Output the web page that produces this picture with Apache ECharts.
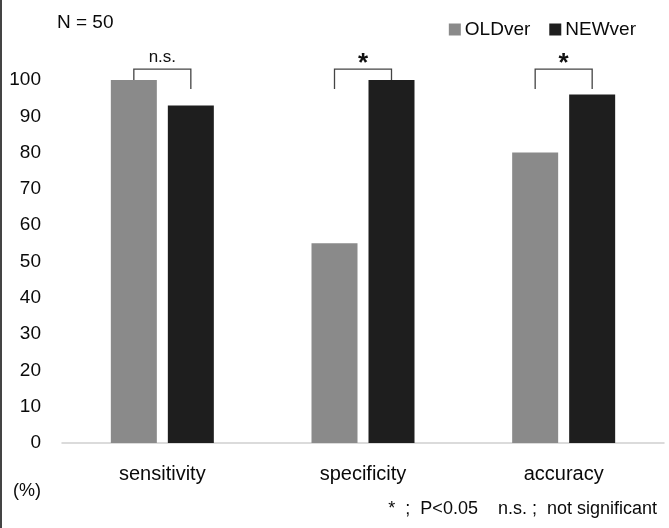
<!DOCTYPE html>
<html>
<head>
<meta charset="utf-8">
<style>
  html, body { margin: 0; padding: 0; background: #fff; }
  #chart { width: 669px; height: 528px; box-sizing: border-box; border-left: 2px solid #444; }
</style>
<script src="https://cdn.jsdelivr.net/npm/echarts@6/dist/echarts.min.js"></script>
</head>
<body>
<div id="chart"></div>
<script>
const categories = ['sensitivity', 'specificity', 'accuracy'];
const oldVer = [100, 55, 80];
const newVer = [93, 100, 96];
const yTicks = [0, 10, 20, 30, 40, 50, 60, 70, 80, 90, 100];
// significance brackets: [category index, top value, left leg end, right leg end]
const bracketTop = [103, 103, 103];
const bracketLeftEnd = [97.5, 97.5, 97.5];
const bracketRightEnd = [97.5, 97.5, 97.5];
const bracketLabels = ['n.s.', '*', '*'];

const FONT = '"Liberation Sans", Arial, sans-serif';
const BAR_W = 46, BAR_GAP = 11;

const chart = echarts.init(document.getElementById('chart'), null, { renderer: 'canvas' });
chart.setOption({
  animation: false,
  backgroundColor: '#fff',
  textStyle: { fontFamily: FONT },
  grid: { left: 60, right: 5, top: 80, bottom: 85, containLabel: false },
  legend: {
    data: ['OLDver', 'NEWver'],
    right: 28, top: 15,
    icon: 'rect', itemWidth: 12, itemHeight: 12, itemGap: 19,
    textStyle: { fontFamily: FONT, fontSize: 19, color: '#0a0a0a', padding: [0, 0, 0, -1] }
  },
  xAxis: {
    type: 'category',
    data: categories,
    axisTick: { show: false },
    axisLine: { lineStyle: { color: '#cfcfcf', width: 1.5 } },
    axisLabel: { fontFamily: FONT, fontSize: 20, color: '#0a0a0a', margin: 21 }
  },
  yAxis: {
    type: 'value',
    min: 0, max: 100, interval: 10,
    splitLine: { show: false },
    axisLine: { show: false },
    axisTick: { show: false },
    axisLabel: {
      fontFamily: FONT, fontSize: 19, color: '#0a0a0a', margin: 21,
      formatter: v => yTicks.includes(v) ? String(v) : ''
    }
  },
  graphic: [
    { type: 'text', left: 55, top: 13, style: { text: 'N = 50', font: '19px ' + FONT, fill: '#0a0a0a' } },
    { type: 'text', left: 11, top: 482, style: { text: '(%)', font: '18px ' + FONT, fill: '#0a0a0a' } },
    { type: 'text', right: 12, top: 500, style: { text: '*  ;  P<0.05    n.s. ;  not significant', font: '18px ' + FONT, fill: '#0a0a0a' } }
  ],
  series: [
    { name: 'OLDver', type: 'bar', data: oldVer, barWidth: BAR_W, barGap: (BAR_GAP / BAR_W * 100) + '%', itemStyle: { color: '#8a8a8a' } },
    { name: 'NEWver', type: 'bar', data: newVer, barWidth: BAR_W, itemStyle: { color: '#1e1e1e' } },
    {
      type: 'custom',
      clip: false,
      silent: true,
      data: categories.map((c, i) => [i, bracketTop[i], bracketLeftEnd[i], bracketRightEnd[i], bracketLabels[i]]),
      renderItem: function (params, api) {
        const idx = api.value(0);
        const top = api.coord([idx, api.value(1)]);
        const l = api.coord([idx, api.value(2)]);
        const r = api.coord([idx, api.value(3)]);
        const off = (BAR_W + BAR_GAP) / 2;
        const label = bracketLabels[params.dataIndex];
        const isStar = label === '*';
        return {
          type: 'group',
          children: [
            {
              type: 'polyline',
              shape: { points: [[top[0] - off, l[1]], [top[0] - off, top[1]], [top[0] + off, top[1]], [top[0] + off, r[1]]] },
              style: { stroke: '#444', lineWidth: 1.3, fill: null }
            },
            {
              type: 'text',
              x: top[0], y: isStar ? top[1] + 8 : top[1] - 3,
              style: {
                text: label,
                font: isStar ? 'bold 26px ' + FONT : '17px ' + FONT,
                fill: '#111', align: 'center', verticalAlign: 'bottom'
              }
            }
          ]
        };
      }
    }
  ]
});
</script>
</body>
</html>
